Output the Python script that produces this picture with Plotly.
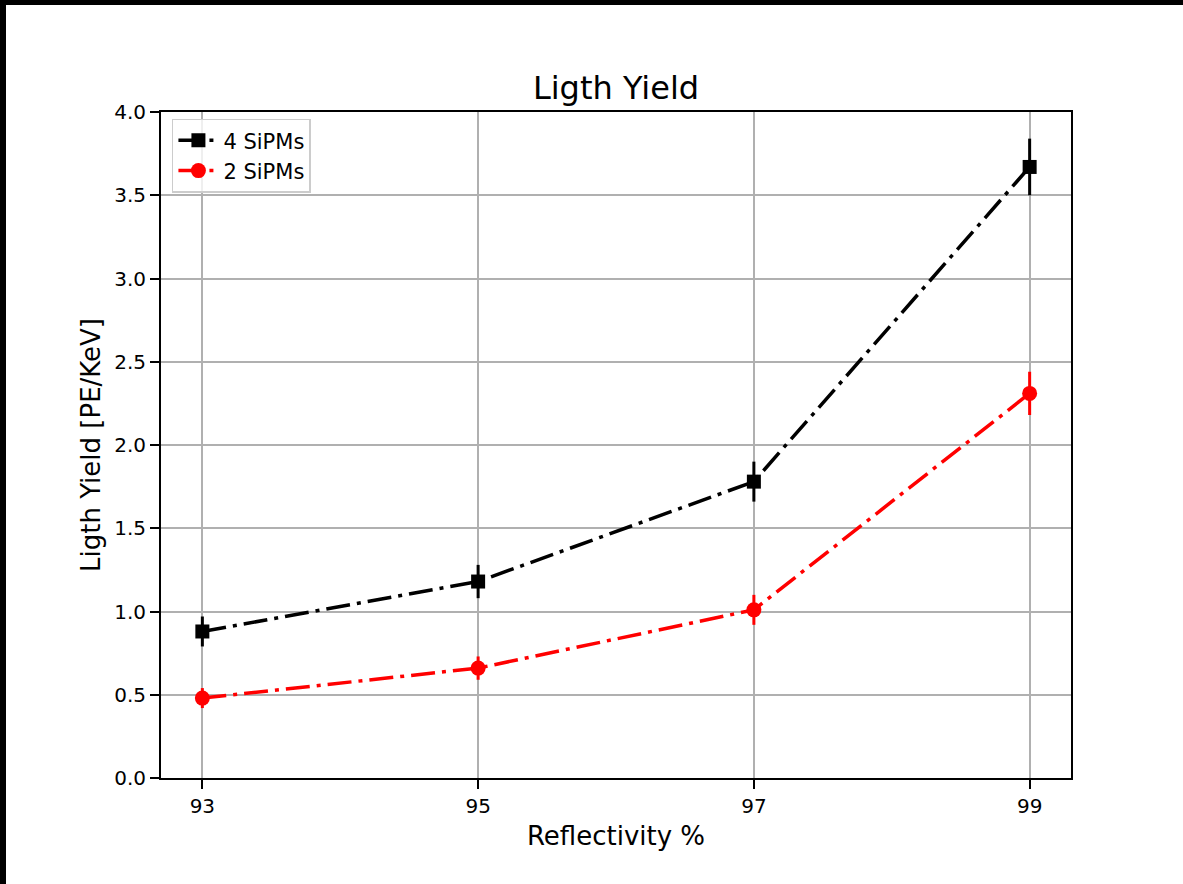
import plotly.graph_objects as go

# Reflectivity of the wrapping (%)
reflectivity = [93, 95, 97, 99]

# Light yield in PE/keV with uncertainties
ly_4sipm = [0.88, 1.18, 1.78, 3.67]
err_4sipm = [0.09, 0.10, 0.12, 0.17]
ly_2sipm = [0.48, 0.66, 1.01, 2.31]
err_2sipm = [0.06, 0.07, 0.09, 0.13]

x_ticks = [93, 95, 97, 99]
y_ticks = [0.0, 0.5, 1.0, 1.5, 2.0, 2.5, 3.0, 3.5, 4.0]

FONT = "DejaVu Sans"
W, H = 1183, 884
ML, MR, MT, MB = 161, 112, 112, 106
PW, PH = W - ML - MR, H - MT - MB

fig = go.Figure()

fig.add_trace(go.Scatter(
    x=reflectivity, y=ly_4sipm, name="4 SiPMs", mode="lines+markers",
    line=dict(color="black", width=3.5, dash="24px,7px,4px,7px"),
    marker=dict(symbol="square", size=14, color="black"),
    error_y=dict(type="data", array=err_4sipm, visible=True,
                 color="black", thickness=3, width=0),
))
fig.add_trace(go.Scatter(
    x=reflectivity, y=ly_2sipm, name="2 SiPMs", mode="lines+markers",
    line=dict(color="red", width=3.5, dash="24px,7px,4px,7px"),
    marker=dict(symbol="circle", size=15, color="red"),
    error_y=dict(type="data", array=err_2sipm, visible=True,
                 color="red", thickness=3, width=0),
))

axis_common = dict(
    showgrid=True, gridcolor="#b0b0b0", gridwidth=2,
    showline=True, linecolor="black", linewidth=2, mirror=True,
    ticks="outside", ticklen=9, tickwidth=2, tickcolor="black",
    zeroline=False,
    tickfont=dict(family=FONT, size=20, color="black"),
)

fig.update_xaxes(
    range=[92.7, 99.3], tickvals=x_ticks, ticktext=[str(v) for v in x_ticks],
    title=dict(text="Reflectivity %", font=dict(family=FONT, size=26, color="black"),
               standoff=10),
    **axis_common,
)
fig.update_yaxes(
    range=[0, 4.0], tickvals=y_ticks, ticktext=[f"{v:.1f}" for v in y_ticks],
    title=dict(text="Ligth Yield [PE/KeV]", font=dict(family=FONT, size=26, color="black"),
               standoff=6),
    **axis_common,
)

# dark frame along the top and left edges of the page
frame = [
    dict(type="rect", xref="paper", yref="paper",
         x0=-ML / PW, x1=(W - ML) / PW, y0=1 + (MT - 5) / PH, y1=1 + MT / PH,
         fillcolor="black", line=dict(width=0), layer="above"),
    dict(type="rect", xref="paper", yref="paper",
         x0=-ML / PW, x1=-(ML - 6) / PW, y0=-MB / PH, y1=1 + MT / PH,
         fillcolor="black", line=dict(width=0), layer="above"),
]

fig.update_layout(
    width=W, height=H,
    margin=dict(l=ML, r=MR, t=MT, b=MB),
    paper_bgcolor="white", plot_bgcolor="white",
    title=dict(text="Ligth Yield", x=(ML + PW / 2) / W, xanchor="center",
               yref="container", y=1 - 88 / H, yanchor="middle",
               font=dict(family=FONT, size=32, color="black")),
    legend=dict(x=0.012, y=0.99, xanchor="left", yanchor="top",
                bgcolor="rgba(255,255,255,0.8)", bordercolor="#cccccc", borderwidth=1.5,
                font=dict(family=FONT, size=21, color="black"),
                itemwidth=40, tracegroupgap=0),
    shapes=frame,
    showlegend=True,
)

fig.write_html("out.html")
